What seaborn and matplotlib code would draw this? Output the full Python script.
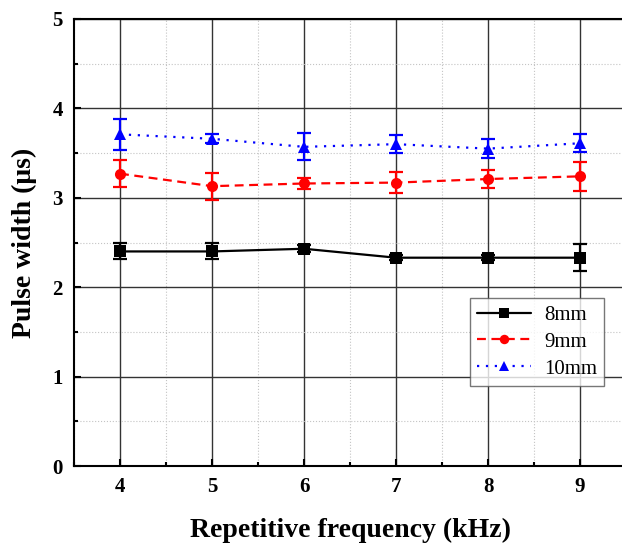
"""Pulse width vs repetitive frequency, three electrode gaps"""
import matplotlib
matplotlib.use("Agg")
import matplotlib.pyplot as plt
import seaborn as sns
import pandas as pd
from matplotlib.ticker import MultipleLocator

freq = [4, 5, 6, 7, 8, 9]
width_8mm = [2.40, 2.40, 2.43, 2.33, 2.33, 2.33]
err_8mm = [0.09, 0.09, 0.04, 0.03, 0.03, 0.15]
width_9mm = [3.27, 3.13, 3.16, 3.17, 3.21, 3.24]
err_9mm = [0.15, 0.15, 0.06, 0.12, 0.10, 0.16]
width_10mm = [3.71, 3.66, 3.57, 3.60, 3.55, 3.61]
err_10mm = [0.17, 0.05, 0.15, 0.10, 0.11, 0.10]
labels = ["8mm", "9mm", "10mm"]

frames = []
for lab, w in zip(labels, [width_8mm, width_9mm, width_10mm]):
    frames.append(pd.DataFrame({"freq": freq, "width": w, "case": lab}))
df = pd.concat(frames)

sns.set_style("ticks")
plt.rcParams["font.family"] = ["Liberation Serif", "DejaVu Serif"]
plt.rcParams.update({"text.color": "black", "axes.labelcolor": "black",
                     "xtick.color": "black", "ytick.color": "black"})

fig = plt.figure(figsize=(6.22, 5.44), dpi=100)
# the plot area runs past the right edge of the picture, as in the original
ax = fig.add_axes([74 / 622, 78 / 544, 552 / 622, 447 / 544])

colors = {"8mm": "black", "9mm": "red", "10mm": "blue"}
markers = {"8mm": "s", "9mm": "o", "10mm": "^"}
dashes = {"8mm": "", "9mm": (4, 2.5), "10mm": (1, 3)}

sns.lineplot(data=df, x="freq", y="width", hue="case", style="case",
             palette=colors, markers=markers, dashes=dashes,
             markersize=8, linewidth=1.6, markeredgewidth=0, ax=ax, zorder=4)

for lab, w, e in zip(labels, [width_8mm, width_9mm, width_10mm],
                     [err_8mm, err_9mm, err_10mm]):
    ax.errorbar(freq, w, yerr=e, fmt="none", ecolor=colors[lab],
                elinewidth=1.6, capsize=5, capthick=1.6, zorder=3)

ax.set_xlim(3.5, 9.5)
ax.set_ylim(0, 5)
ax.xaxis.set_major_locator(MultipleLocator(1))
ax.xaxis.set_minor_locator(MultipleLocator(0.5))
ax.yaxis.set_major_locator(MultipleLocator(1))
ax.yaxis.set_minor_locator(MultipleLocator(0.5))
ax.grid(which="major", color="#333333", linewidth=1.0, linestyle="-")
ax.grid(which="minor", color="#c4c4c4", linewidth=0.8, linestyle=":")
ax.set_axisbelow(True)
ax.tick_params(which="major", direction="in", length=5, width=1.5,
               labelsize=15, pad=8)
ax.tick_params(which="minor", direction="in", length=3, width=1.5)
for lbl in ax.get_xticklabels() + ax.get_yticklabels():
    lbl.set_fontweight("bold")
for sp in ax.spines.values():
    sp.set_linewidth(1.5)
    sp.set_color("black")

ax.set_xlabel("Repetitive frequency (kHz)", fontsize=20, fontweight="bold",
              labelpad=15)
ax.set_ylabel("Pulse width (\u03bcs)", fontsize=20, fontweight="bold",
              labelpad=11)

handles, _ = ax.get_legend_handles_labels()
leg = ax.legend(handles, labels, loc="upper left",
                bbox_to_anchor=((470 - 74) / 552, (466 - 298) / 447),
                fontsize=15, frameon=True, fancybox=False, edgecolor="#555555",
                handlelength=2.6, handletextpad=0.6, borderpad=0.35,
                labelspacing=0.35, borderaxespad=0, markerscale=0.85)
leg.get_frame().set_linewidth(1.0)

fig.savefig("out.png", dpi=100)
